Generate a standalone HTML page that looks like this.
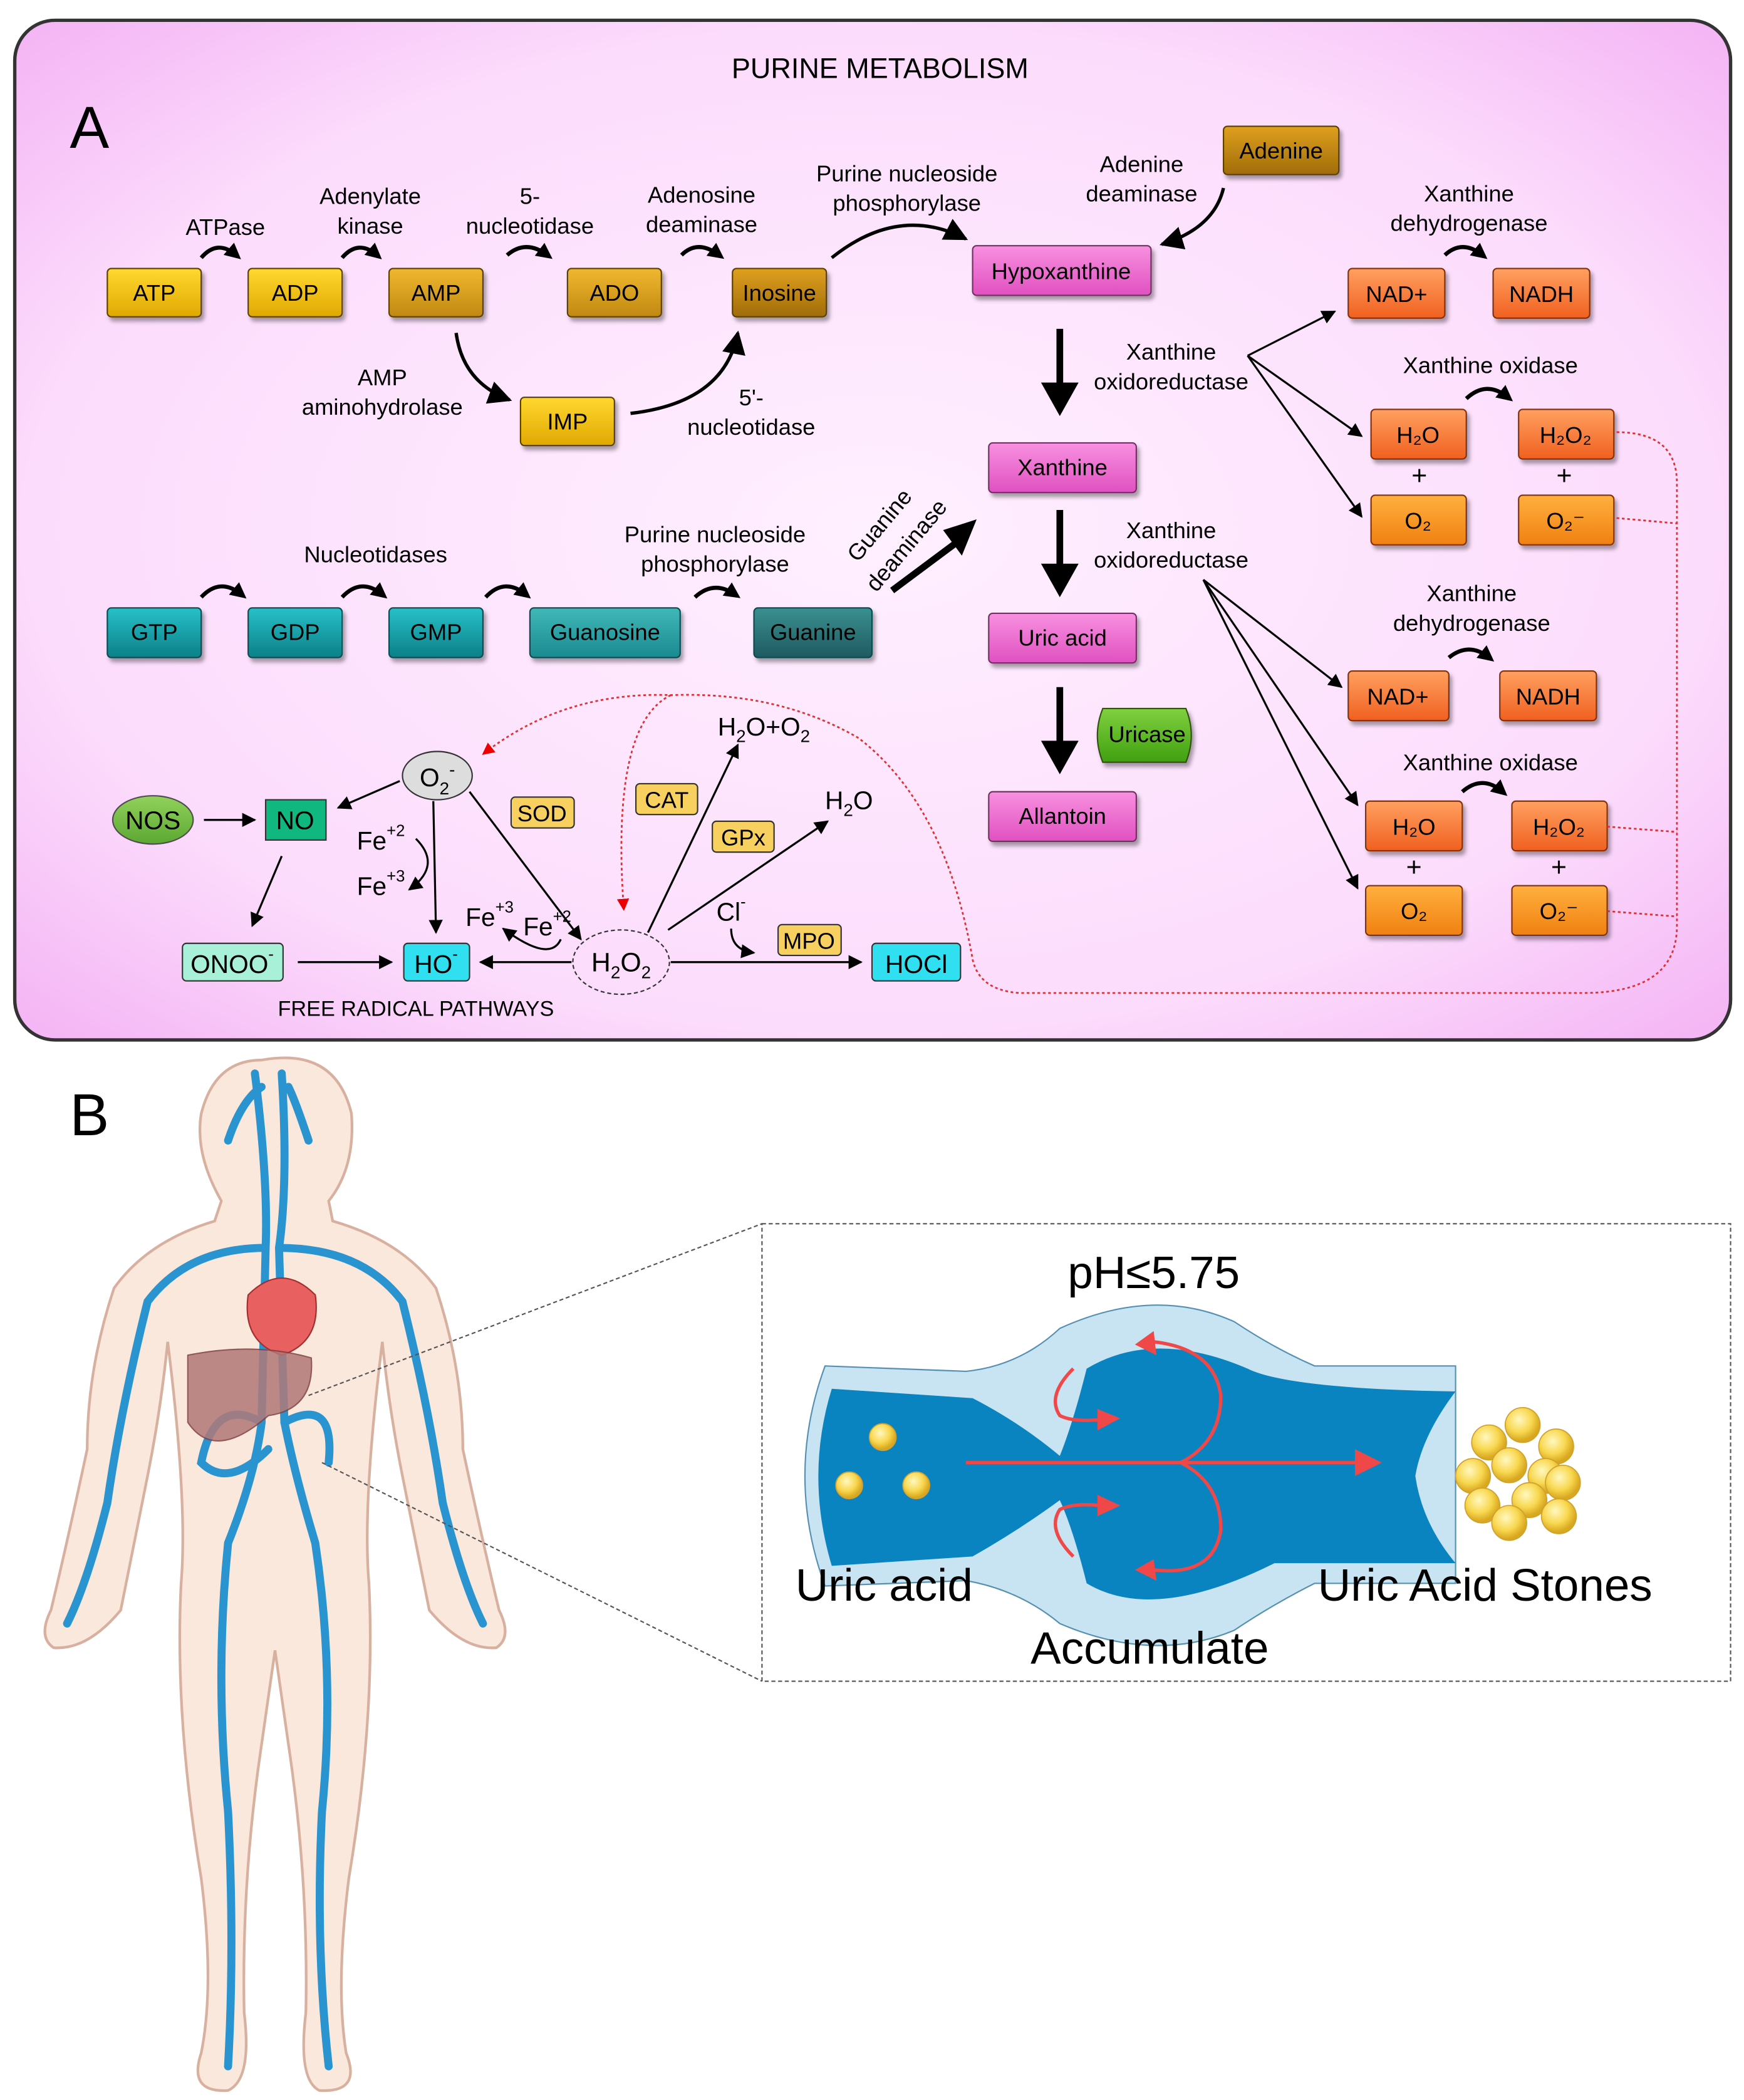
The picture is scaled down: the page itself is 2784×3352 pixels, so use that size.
<!DOCTYPE html>
<html><head><meta charset="utf-8"><style>html,body{margin:0;padding:0;background:#fff}svg{display:block}text{font-family:"Liberation Sans",sans-serif}</style></head><body>
<svg width="2784" height="3352" viewBox="0 0 1300 1565" xmlns="http://www.w3.org/2000/svg">
<defs>
<radialGradient id="bg" cx="50%" cy="50%" r="70%"><stop offset="0" stop-color="#fff0ff"/><stop offset="0.7" stop-color="#fcdcfc"/><stop offset="1" stop-color="#f4b4f4"/></radialGradient>
<linearGradient id="gold" x1="0" y1="0" x2="0" y2="1"><stop offset="0" stop-color="#ffd830"/><stop offset="1" stop-color="#e0a800"/></linearGradient>
<linearGradient id="gold2" x1="0" y1="0" x2="0" y2="1"><stop offset="0" stop-color="#f0b830"/><stop offset="1" stop-color="#c08810"/></linearGradient>
<linearGradient id="brown" x1="0" y1="0" x2="0" y2="1"><stop offset="0" stop-color="#e0a020"/><stop offset="1" stop-color="#a06c08"/></linearGradient>
<linearGradient id="teal" x1="0" y1="0" x2="0" y2="1"><stop offset="0" stop-color="#28c0c8"/><stop offset="1" stop-color="#0b8088"/></linearGradient>
<linearGradient id="teal2" x1="0" y1="0" x2="0" y2="1"><stop offset="0" stop-color="#40b8b8"/><stop offset="1" stop-color="#1a8a90"/></linearGradient>
<linearGradient id="teal3" x1="0" y1="0" x2="0" y2="1"><stop offset="0" stop-color="#3a9090"/><stop offset="1" stop-color="#1e5a60"/></linearGradient>
<linearGradient id="orange" x1="0" y1="0" x2="0" y2="1"><stop offset="0" stop-color="#ffa060"/><stop offset="1" stop-color="#f06020"/></linearGradient>
<linearGradient id="orange2" x1="0" y1="0" x2="0" y2="1"><stop offset="0" stop-color="#ffb040"/><stop offset="1" stop-color="#f08010"/></linearGradient>
<linearGradient id="pink" x1="0" y1="0" x2="0" y2="1"><stop offset="0" stop-color="#f890e0"/><stop offset="1" stop-color="#e050c0"/></linearGradient>
<linearGradient id="green" x1="0" y1="0" x2="0" y2="1"><stop offset="0" stop-color="#80d040"/><stop offset="1" stop-color="#40a010"/></linearGradient>
<radialGradient id="ball" cx="40%" cy="35%" r="60%"><stop offset="0" stop-color="#fff8c0"/><stop offset="0.6" stop-color="#f8d850"/><stop offset="1" stop-color="#d8a820"/></radialGradient>
<marker id="ah" viewBox="0 0 10 10" refX="9" refY="5" markerWidth="7" markerHeight="7" orient="auto-start-reverse"><path d="M0,0L10,5L0,10z" fill="#000"/></marker>
<marker id="ahb" viewBox="0 0 10 10" refX="6" refY="5" markerWidth="4" markerHeight="4" orient="auto"><path d="M0,0L10,5L0,10z" fill="#000"/></marker>
<marker id="ahr" viewBox="0 0 10 10" refX="9" refY="5" markerWidth="7" markerHeight="7" orient="auto"><path d="M0,0L10,5L0,10z" fill="#e00"/></marker>
<filter id="sh" x="-20%" y="-20%" width="140%" height="160%"><feDropShadow dx="2" dy="3" stdDeviation="1.5" flood-color="#000" flood-opacity="0.35"/></filter>
</defs>
<rect width="1300" height="1565" fill="#fff"/>
<rect x="11" y="15" width="1279" height="760" rx="30" fill="url(#bg)" stroke="#333" stroke-width="2.5"/>
<text x="656" y="58" font-size="21" text-anchor="middle">PURINE METABOLISM</text>
<text x="52" y="110" font-size="44">A</text>

<g filter="url(#sh)" stroke="#5a4000" stroke-width="1">
<rect x="80" y="200" width="70" height="36" rx="3" fill="url(#gold)"/>
<rect x="185" y="200" width="70" height="36" rx="3" fill="url(#gold)"/>
<rect x="290" y="200" width="70" height="36" rx="3" fill="url(#gold2)"/>
<rect x="423" y="200" width="70" height="36" rx="3" fill="url(#gold2)"/>
<rect x="546" y="200" width="70" height="36" rx="3" fill="url(#brown)"/>
<rect x="388" y="296" width="70" height="36" rx="3" fill="url(#gold)"/>
<rect x="912" y="94" width="86" height="36" rx="3" fill="url(#brown)"/>
</g>
<g filter="url(#sh)" stroke="#703060" stroke-width="1" fill="url(#pink)">
<rect x="725" y="183" width="133" height="37" rx="3"/>
<rect x="737" y="330" width="110" height="37" rx="3"/>
<rect x="737" y="457" width="110" height="37" rx="3"/>
<rect x="737" y="590" width="110" height="37" rx="3"/>
</g>
<path d="M822,528 H884 Q892,548 884,568 H822 Q814,548 822,528Z" fill="url(#green)" stroke="#305010" filter="url(#sh)"/>
<g filter="url(#sh)" stroke="#0a4a50" stroke-width="1">
<rect x="80" y="453" width="70" height="37" rx="3" fill="url(#teal)"/>
<rect x="185" y="453" width="70" height="37" rx="3" fill="url(#teal)"/>
<rect x="290" y="453" width="70" height="37" rx="3" fill="url(#teal)"/>
<rect x="395" y="453" width="112" height="37" rx="3" fill="url(#teal2)"/>
<rect x="562" y="453" width="88" height="37" rx="3" fill="url(#teal3)"/>
</g>
<g filter="url(#sh)" stroke="#803010" stroke-width="1">
<rect x="1005" y="200" width="72" height="37" rx="3" fill="url(#orange)"/>
<rect x="1113" y="200" width="72" height="37" rx="3" fill="url(#orange)"/>
<rect x="1022" y="305" width="71" height="37" rx="3" fill="url(#orange)"/>
<rect x="1132" y="305" width="71" height="37" rx="3" fill="url(#orange)"/>
<rect x="1022" y="369" width="71" height="37" rx="3" fill="url(#orange2)"/>
<rect x="1132" y="369" width="71" height="37" rx="3" fill="url(#orange2)"/>
<rect x="1005" y="500" width="75" height="37" rx="3" fill="url(#orange)"/>
<rect x="1118" y="500" width="72" height="37" rx="3" fill="url(#orange)"/>
<rect x="1018" y="597" width="72" height="37" rx="3" fill="url(#orange)"/>
<rect x="1127" y="597" width="71" height="37" rx="3" fill="url(#orange)"/>
<rect x="1018" y="660" width="72" height="37" rx="3" fill="url(#orange2)"/>
<rect x="1127" y="660" width="71" height="37" rx="3" fill="url(#orange2)"/>
</g>
<g font-size="17" text-anchor="middle">
<text x="115" y="224">ATP</text><text x="220" y="224">ADP</text><text x="325" y="224">AMP</text><text x="458" y="224">ADO</text><text x="581" y="224">Inosine</text><text x="423" y="320">IMP</text><text x="955" y="118">Adenine</text>
<text x="791" y="208">Hypoxanthine</text><text x="792" y="354">Xanthine</text><text x="792" y="481">Uric acid</text><text x="792" y="614">Allantoin</text><text x="855" y="553">Uricase</text>
<text x="115" y="477">GTP</text><text x="220" y="477">GDP</text><text x="325" y="477">GMP</text><text x="451" y="477">Guanosine</text><text x="606" y="477">Guanine</text>
<text x="1041" y="225">NAD+</text><text x="1149" y="225">NADH</text><text x="1057" y="330">H₂O</text><text x="1167" y="330">H₂O₂</text><text x="1057" y="394">O₂</text><text x="1167" y="394">O₂⁻</text>
<text x="1042" y="525">NAD+</text><text x="1154" y="525">NADH</text><text x="1054" y="622">H₂O</text><text x="1162" y="622">H₂O₂</text><text x="1054" y="685">O₂</text><text x="1162" y="685">O₂⁻</text>
<text x="1058" y="361" font-size="20">+</text><text x="1166" y="361" font-size="20">+</text><text x="1054" y="653" font-size="20">+</text><text x="1162" y="653" font-size="20">+</text>
</g>
<g font-size="17" text-anchor="middle">
<text x="168" y="175">ATPase</text>
<text x="276" y="152">Adenylate</text><text x="276" y="174">kinase</text>
<text x="395" y="152">5-</text><text x="395" y="174">nucleotidase</text>
<text x="523" y="151">Adenosine</text><text x="523" y="173">deaminase</text>
<text x="676" y="135">Purine nucleoside</text><text x="676" y="157">phosphorylase</text>
<text x="851" y="128">Adenine</text><text x="851" y="150">deaminase</text>
<text x="285" y="287">AMP</text><text x="285" y="309">aminohydrolase</text>
<text x="560" y="302">5'-</text><text x="560" y="324">nucleotidase</text>
<text x="873" y="268">Xanthine</text><text x="873" y="290">oxidoreductase</text>
<text x="873" y="401">Xanthine</text><text x="873" y="423">oxidoreductase</text>
<text x="1095" y="150">Xanthine</text><text x="1095" y="172">dehydrogenase</text>
<text x="1111" y="278">Xanthine oxidase</text>
<text x="1097" y="448">Xanthine</text><text x="1097" y="470">dehydrogenase</text>
<text x="1111" y="574">Xanthine oxidase</text>
<text x="280" y="419">Nucleotidases</text>
<text x="533" y="404">Purine nucleoside</text><text x="533" y="426">phosphorylase</text>
<text transform="translate(660,395) rotate(-50)" x="0" y="0">Guanine</text>
<text transform="translate(680,410) rotate(-50)" x="0" y="0">deaminase</text>
</g>
<g fill="none" stroke="#000" stroke-width="3" marker-end="url(#ahb)">
<path d="M150,192 Q162,178 176,190"/><path d="M255,192 Q267,178 281,190"/><path d="M378,190 Q392,178 408,190"/><path d="M508,190 Q520,178 536,190"/>
<path d="M150,445 Q164,430 180,443"/><path d="M255,445 Q269,430 285,443"/><path d="M362,445 Q376,430 392,443"/><path d="M518,445 Q532,432 548,443"/>
<path d="M1077,190 Q1090,178 1105,190"/><path d="M1093,297 Q1108,283 1124,296"/><path d="M1080,490 Q1095,478 1110,490"/><path d="M1090,590 Q1105,577 1120,590"/>
</g>
<g fill="none" stroke="#000" stroke-width="2.5" marker-end="url(#ah)">
<path d="M620,192 Q670,152 720,178"/>
<path d="M912,140 Q905,170 866,182"/>
<path d="M340,248 Q345,285 380,298"/>
<path d="M470,308 Q540,300 550,248"/>
</g>
<g stroke="#000" stroke-width="5" fill="none">
<line x1="790" y1="245" x2="790" y2="290"/><line x1="790" y1="380" x2="790" y2="425"/><line x1="790" y1="512" x2="790" y2="557"/>
<line x1="665" y1="440" x2="712" y2="405"/>
</g>
<g fill="#000"><path d="M776,285L804,285L790,310z"/><path d="M776,420L804,420L790,445z"/><path d="M776,552L804,552L790,577z"/><path d="M703,395L728,387L717,414z"/></g>
<g stroke="#000" stroke-width="1.5" marker-end="url(#ah)" fill="none">
<line x1="930" y1="265" x2="995" y2="232"/><line x1="930" y1="265" x2="1015" y2="325"/><line x1="930" y1="265" x2="1015" y2="385"/>
<line x1="897" y1="432" x2="1000" y2="512"/><line x1="897" y1="432" x2="1012" y2="600"/><line x1="897" y1="432" x2="1012" y2="662"/>
</g>
<g fill="none" stroke="#e03030" stroke-width="1.3" stroke-dasharray="2,2">
<path d="M1205,322 Q1250,322 1250,360 L1250,690 Q1250,740 1180,740 L760,740 Q730,738 725,715 Q705,600 640,550 Q580,515 500,518 Q420,515 360,562" marker-end="url(#ahr)"/>
<path d="M1205,386 L1250,390"/><path d="M1198,616 L1250,620"/><path d="M1198,679 L1250,683"/>
<path d="M500,518 Q455,540 465,678" marker-end="url(#ahr)"/>
</g>
<ellipse cx="114" cy="611" rx="30" ry="18" fill="url(#green)" stroke="#333" opacity="0.85"/>
<text x="114" y="618" font-size="19" text-anchor="middle">NOS</text>
<rect x="198" y="596" width="45" height="30" fill="#10b880" stroke="#333"/><text x="220" y="618" font-size="19" text-anchor="middle">NO</text>
<ellipse cx="326" cy="578" rx="26" ry="18" fill="#ddd" stroke="#333"/><text x="326" y="586" font-size="19" text-anchor="middle">O<tspan font-size="13" dy="6">2</tspan><tspan font-size="13" dy="-14">-</tspan></text>
<g font-size="17" text-anchor="middle">
<rect x="381" y="594" width="47" height="23" rx="3" fill="#f8d060" stroke="#333"/><text x="404" y="612">SOD</text>
<rect x="474" y="584" width="46" height="23" rx="3" fill="#f8d060" stroke="#333"/><text x="497" y="602">CAT</text>
<rect x="531" y="612" width="46" height="23" rx="3" fill="#f8d060" stroke="#333"/><text x="554" y="630">GPx</text>
<rect x="580" y="689" width="47" height="23" rx="3" fill="#f8d060" stroke="#333"/><text x="603" y="707">MPO</text>
</g>
<rect x="136" y="703" width="75" height="28" rx="3" fill="#a8f0d8" stroke="#333"/><text x="173" y="725" font-size="19" text-anchor="middle">ONOO<tspan font-size="12" dy="-10">-</tspan></text>
<rect x="301" y="703" width="49" height="28" rx="3" fill="#30e0f0" stroke="#333"/><text x="325" y="725" font-size="19" text-anchor="middle">HO<tspan font-size="12" dy="-10">-</tspan></text>
<rect x="650" y="703" width="66" height="28" rx="3" fill="#30e0f0" stroke="#333"/><text x="683" y="725" font-size="19" text-anchor="middle">HOCl</text>
<ellipse cx="463" cy="717" rx="36" ry="24" fill="none" stroke="#333" stroke-dasharray="3,2"/>
<text x="463" y="724" font-size="20" text-anchor="middle">H<tspan font-size="13" dy="5">2</tspan><tspan dy="-5">O</tspan><tspan font-size="13" dy="5">2</tspan></text>
<g font-size="19">
<text x="266" y="633">Fe<tspan font-size="12" dy="-10">+2</tspan></text>
<text x="266" y="667">Fe<tspan font-size="12" dy="-10">+3</tspan></text>
<text x="347" y="690">Fe<tspan font-size="12" dy="-10">+3</tspan></text>
<text x="390" y="697">Fe<tspan font-size="12" dy="-10">+2</tspan></text>
<text x="534" y="686">Cl<tspan font-size="12" dy="-10">-</tspan></text>
<text x="535" y="548">H<tspan font-size="13" dy="5">2</tspan><tspan dy="-5">O+O</tspan><tspan font-size="13" dy="5">2</tspan></text>
<text x="615" y="603">H<tspan font-size="13" dy="5">2</tspan><tspan dy="-5">O</tspan></text>
</g>
<text x="310" y="757" font-size="16" text-anchor="middle">FREE RADICAL PATHWAYS</text>
<g stroke="#000" stroke-width="1.5" fill="none" marker-end="url(#ah)">
<line x1="152" y1="611" x2="190" y2="611"/>
<line x1="298" y1="582" x2="252" y2="602"/>
<line x1="210" y1="638" x2="188" y2="690"/>
<line x1="222" y1="717" x2="292" y2="717"/>
<line x1="323" y1="597" x2="325" y2="695"/>
<line x1="350" y1="590" x2="433" y2="700"/>
<line x1="426" y1="717" x2="358" y2="717"/>
<line x1="483" y1="695" x2="550" y2="555"/>
<line x1="498" y1="693" x2="617" y2="612"/>
<line x1="500" y1="717" x2="642" y2="717"/>
<path d="M310,625 Q330,645 305,663"/>
<path d="M418,700 Q410,718 375,692"/>
<path d="M545,692 Q545,708 562,710"/>
</g>
<text x="52" y="846" font-size="44">B</text>
<g fill="#fbe8dc" stroke="#d8b0a0" stroke-width="2">
<path d="M195,790 Q250,780 262,830 Q265,870 245,895 L248,910 Q300,925 325,960 Q345,1020 345,1080 Q360,1150 372,1200 Q382,1220 370,1228 Q345,1230 320,1200 Q310,1150 300,1100 Q290,1050 285,1000 Q270,1120 275,1180 Q280,1280 260,1400 Q250,1480 258,1530 Q270,1560 238,1558 Q222,1550 228,1500 Q230,1400 215,1300 L205,1230 L195,1300 Q180,1400 182,1500 Q188,1550 170,1558 Q140,1560 150,1530 Q160,1480 150,1400 Q130,1280 135,1180 Q140,1120 125,1000 Q120,1050 110,1100 Q100,1150 90,1200 Q65,1230 40,1228 Q28,1220 38,1200 Q50,1150 65,1080 Q65,1020 85,960 Q110,925 160,910 L165,895 Q145,860 150,830 Q160,790 195,790Z"/>
</g>
<g fill="none" stroke="#2a94d0" stroke-width="6" stroke-linecap="round">
<path d="M190,800 Q200,880 198,930 L195,1060 Q190,1100 170,1150 Q160,1250 170,1350 Q175,1450 170,1540"/>
<path d="M210,800 Q215,880 208,930 L212,1060 Q220,1100 235,1150 Q250,1250 240,1350 Q235,1450 245,1540"/>
<path d="M198,930 Q140,930 110,970 Q90,1050 80,1120 Q65,1180 50,1210"/>
<path d="M208,930 Q270,930 300,970 Q320,1050 330,1120 Q345,1180 360,1210"/>
<path d="M170,850 Q180,820 195,810"/><path d="M230,850 Q220,820 215,810"/>
<path d="M195,1060 Q160,1040 150,1090 Q170,1110 200,1080"/>
<path d="M212,1060 Q250,1040 245,1090"/>
</g>
<path d="M185,965 Q210,940 235,965 Q240,1000 210,1010 Q180,1000 185,965Z" fill="#e86060" stroke="#a03030"/>
<path d="M140,1010 Q190,1000 232,1012 Q235,1050 200,1055 Q160,1090 140,1060Z" fill="#b07878" stroke="#804040" opacity="0.85"/>
<g stroke="#555" stroke-width="1" stroke-dasharray="3,2" fill="none">
<rect x="568" y="912" width="722" height="341"/>
<line x1="230" y1="1040" x2="568" y2="912"/><line x1="240" y1="1090" x2="568" y2="1253"/>
</g>
<path d="M615,1018 L720,1022 Q760,1018 790,990 Q860,958 920,985 Q950,1005 980,1018 L1085,1018 L1085,1180 L980,1180 Q950,1195 920,1215 Q860,1240 790,1210 Q760,1185 720,1178 L615,1182 Q585,1100 615,1018Z" fill="#c8e4f2" stroke="#5590b0"/>
<path d="M620,1035 L725,1042 Q760,1060 790,1085 Q800,1060 810,1020 Q860,990 930,1020 Q960,1035 1085,1037 Q1060,1070 1055,1100 Q1060,1135 1085,1165 L950,1165 Q860,1210 810,1180 Q800,1140 790,1118 Q760,1140 725,1160 L620,1167 Q600,1100 620,1035Z" fill="#0a84c0"/>
<g fill="none" stroke="#f04848" stroke-width="2.5">
<line x1="720" y1="1090" x2="1015" y2="1090"/>
<path d="M880,1090 Q910,1075 910,1040 Q905,1005 860,1000"/>
<path d="M880,1090 Q910,1105 910,1140 Q905,1175 860,1170"/>
<path d="M800,1020 Q780,1040 790,1055 Q800,1060 820,1058"/>
<path d="M800,1160 Q780,1140 790,1125 Q800,1120 820,1122"/>
</g>
<g fill="#f04848"><path d="M1010,1080L1030,1090L1010,1100z"/><path d="M860,992L846,1002L862,1010z"/><path d="M860,1162L846,1170L862,1178z"/><path d="M818,1050L835,1057L818,1066z"/><path d="M818,1114L835,1122L818,1130z"/></g>
<g fill="url(#ball)" stroke="#d0a030" stroke-width="0.8">
<circle cx="658" cy="1071" r="10"/><circle cx="633" cy="1107" r="10"/><circle cx="683" cy="1107" r="10"/>
<circle cx="1110" cy="1075" r="13"/><circle cx="1135" cy="1062" r="13"/><circle cx="1160" cy="1078" r="13"/><circle cx="1098" cy="1100" r="13"/><circle cx="1125" cy="1092" r="13"/><circle cx="1152" cy="1100" r="13"/><circle cx="1165" cy="1105" r="13"/><circle cx="1105" cy="1122" r="13"/><circle cx="1140" cy="1118" r="13"/><circle cx="1162" cy="1130" r="13"/><circle cx="1125" cy="1135" r="13"/>
</g>
<g font-size="34" text-anchor="middle">
<text x="860" y="960">pH≤5.75</text>
<text x="659" y="1193">Uric acid</text>
<text x="1107" y="1193">Uric Acid Stones</text>
<text x="857" y="1240">Accumulate</text>
</g>
</svg>
</body></html>
